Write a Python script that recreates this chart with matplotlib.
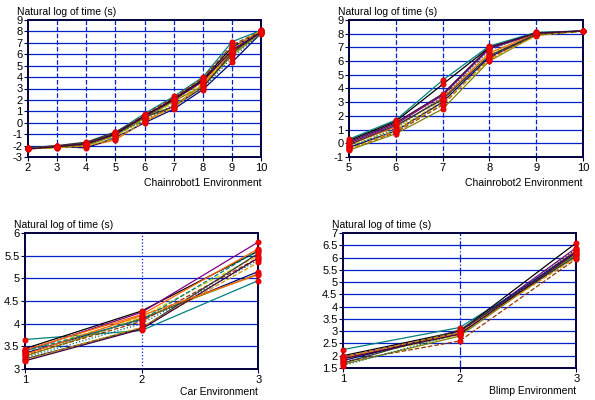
import matplotlib
matplotlib.use('Agg')
import matplotlib.pyplot as plt

plt.rcParams['font.family'] = ['Liberation Sans', 'DejaVu Sans']

# 数据
cr1_x = [2, 3, 4, 5, 6, 7, 8, 9, 10]
cr1_series = [
    [-2.25, -2.05, -1.75, -0.85, 0.8, 2.3, 4.0, 7.1, 8.1],
    [-2.2, -2.1, -1.85, -0.95, 0.6, 2.1, 3.8, 6.6, 8.0],
    [-2.25, -2.15, -1.9, -1.05, 0.5, 2.0, 3.6, 6.4, 7.95],
    [-2.3, -2.0, -2.1, -1.5, 0.1, 1.5, 3.3, 6.2, 7.9],
    [-2.25, -2.2, -1.95, -1.2, 0.3, 1.8, 3.5, 6.0, 8.0],
    [-2.2, -2.1, -2.2, -1.3, 0.0, 1.2, 2.9, 5.3, 7.85],
    [-2.25, -2.05, -1.8, -0.9, 0.7, 2.2, 3.9, 6.8, 8.05],
    [-2.3, -2.15, -2.0, -1.1, 0.4, 1.9, 3.2, 5.9, 7.9],
    [-2.25, -2.1, -1.9, -1.0, 0.2, 1.6, 3.0, 5.7, 7.8],
    [-2.2, -2.0, -1.7, -0.8, 0.5, 1.4, 3.1, 6.1, 8.0],
    [-2.25, -2.2, -2.05, -1.4, 0.1, 1.3, 3.4, 6.5, 8.1],
    [-2.3, -2.1, -1.85, -1.0, 0.6, 2.0, 3.7, 6.3, 7.95],
]

cr2_x = [5, 6, 7, 8, 9, 10]
cr2_series = [
    [0.3, 1.7, 4.6, 7.1, 8.1, 8.2],
    [0.2, 1.6, 4.3, 7.0, 8.0, 8.2],
    [0.0, 1.4, 3.5, 6.9, 8.0, 8.2],
    [-0.1, 1.2, 3.3, 6.6, 8.0, 8.2],
    [-0.2, 1.0, 3.1, 6.5, 7.9, 8.2],
    [-0.3, 0.9, 3.0, 6.3, 7.9, 8.2],
    [-0.4, 0.8, 2.8, 6.2, 8.0, 8.2],
    [-0.5, 0.7, 2.5, 6.0, 7.9, 8.2],
    [-0.3, 1.1, 3.4, 6.8, 8.1, 8.2],
    [-0.1, 1.3, 3.2, 6.4, 7.95, 8.2],
    [-0.45, 0.9, 2.9, 6.1, 7.85, 8.2],
    [0.1, 1.5, 3.6, 7.0, 8.05, 8.2],
]

car_x = [1, 2, 3]
car_series = [
    [3.65, 3.85, 4.95],
    [3.45, 4.28, 5.6],
    [3.4, 4.25, 5.8],
    [3.42, 4.2, 5.65],
    [3.38, 4.15, 5.5],
    [3.35, 4.1, 5.15],
    [3.3, 4.05, 5.45],
    [3.28, 4.12, 5.1],
    [3.25, 4.0, 5.4],
    [3.22, 3.9, 5.55],
    [3.2, 3.92, 5.35],
    [3.18, 3.88, 5.45],
    [3.32, 4.18, 5.08],
    [3.4, 4.08, 5.62],
]

blimp_x = [1, 2, 3]
blimp_series = [
    [2.25, 3.15, 6.1],
    [2.0, 3.0, 6.6],
    [1.95, 2.95, 6.4],
    [1.9, 2.9, 6.3],
    [1.85, 2.85, 6.2],
    [1.8, 3.0, 6.25],
    [1.75, 2.6, 5.95],
    [1.65, 2.8, 6.15],
    [1.6, 2.9, 6.35],
    [1.7, 3.05, 6.05],
    [1.95, 2.95, 6.0],
    [1.88, 2.88, 6.2],
]

line_colors = ['#008080', '#000000', '#800080', '#FF6600', '#CCCC00', '#000080',
               '#993300', '#808000', '#006666', '#333333', '#CC9900', '#400040',
               '#FF6600', '#008080']
line_styles = ['-', '-', '-', '-', '--', '-', '--', '-', ':', '-', '--', '-', '-', '--']

fig = plt.figure(figsize=(5.95, 4.0), dpi=100)

panels = [
    # (rect, x, series, ylim, yticks, xlim, xlabel, vgrid style, xlabel y)
    ([0.047, 0.6075, 0.392, 0.3425], cr1_x, cr1_series, (-3, 9), range(-3, 10), (2, 10), 'Chainrobot1 Environment', '--', -0.15),
    ([0.5866, 0.6075, 0.393, 0.3425], cr2_x, cr2_series, (-1, 9), range(-1, 10), (5, 10), 'Chainrobot2 Environment', '--', -0.15),
    ([0.042, 0.0775, 0.392, 0.34], car_x, car_series, (3, 6), [3, 3.5, 4, 4.5, 5, 5.5, 6], (1, 3), 'Car Environment', ':', -0.13),
    ([0.5765, 0.08, 0.392, 0.3375], blimp_x, blimp_series, (1.5, 7), [1.5, 2, 2.5, 3, 3.5, 4, 4.5, 5, 5.5, 6, 6.5, 7], (1, 3), 'Blimp Environment', '-.', -0.13),
]

for rect, xs, series, ylim, yticks, xlim, xlabel, vstyle, xly in panels:
    ax = fig.add_axes(rect)
    ax.set_xlim(*xlim)
    ax.set_ylim(*ylim)
    ax.set_yticks(list(yticks))
    ax.set_xticks(xs)
    ax.set_yticklabels(['%g' % t for t in yticks], fontsize=8)
    ax.set_xticklabels([str(t) for t in xs], fontsize=8)
    ax.tick_params(length=3, width=0.8, pad=1, color='#000040')

    # 网格线
    for t in yticks:
        if ylim[0] < t < ylim[1]:
            ax.axhline(t, color='#0022CC', lw=0.9, zorder=1)
    for t in xs:
        if xlim[0] < t < xlim[1]:
            ax.axvline(t, color='#0022CC', lw=0.9, ls=vstyle, zorder=1)

    for i, ys in enumerate(series):
        ax.plot(xs, ys, color=line_colors[i % len(line_colors)],
                ls=line_styles[i % len(line_styles)], lw=0.9, zorder=2)
    for ys in series:
        ax.plot(xs, ys, ls='none', marker='o', ms=3.5, mfc='red', mec='#DD0000',
                mew=0.8, zorder=3, clip_on=False)

    for sp in ax.spines.values():
        sp.set_color('#000040')
        sp.set_linewidth(1.4)

    ax.text(-0.046, 1.02, 'Natural log of time (s)', transform=ax.transAxes,
            fontsize=7.5, ha='left', va='bottom')
    ax.text(1.0, xly, xlabel, transform=ax.transAxes,
            fontsize=7.5, ha='right', va='top')

fig.savefig('out.png', dpi=100)
